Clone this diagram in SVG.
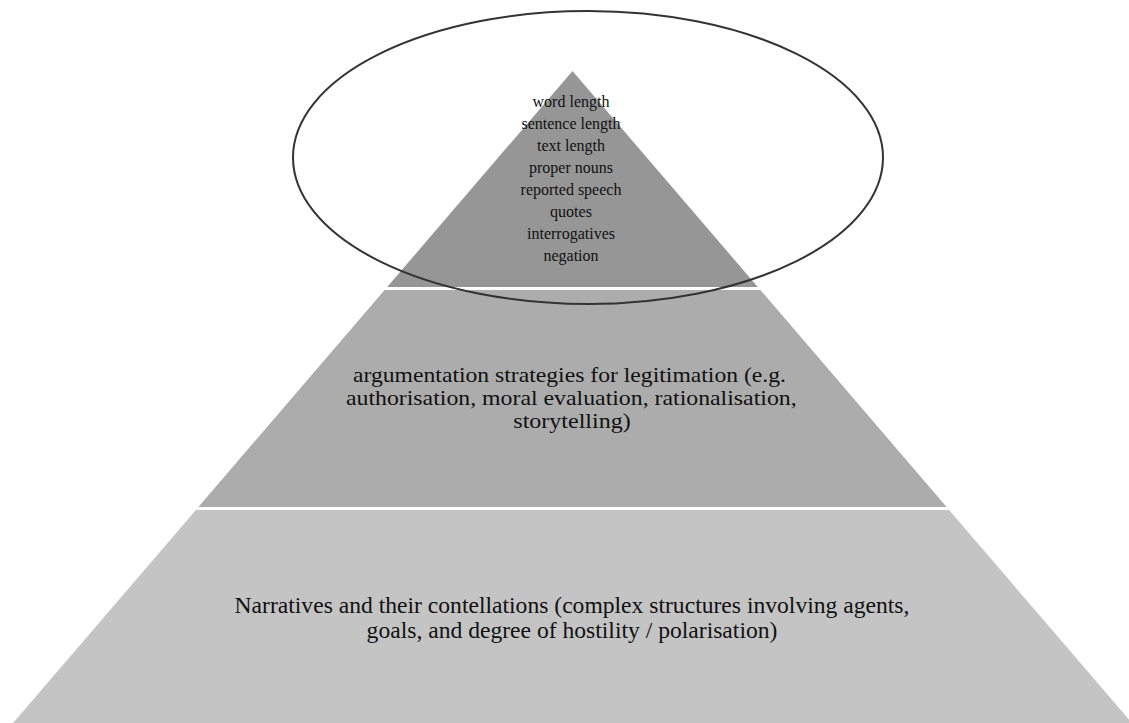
<svg xmlns="http://www.w3.org/2000/svg" width="1129" height="723" viewBox="0 0 1129 723">
  <style>
    .tier-top { fill: #969696; }
    .tier-mid { fill: #acacac; }
    .tier-base { fill: #c4c4c4; }
    .label { font-family: "Liberation Serif", "Times New Roman", serif; fill: #111; text-anchor: middle; }
    .small { font-size: 16px; }
    .large { font-size: 23.6px; }
    .mid { font-size: 22px; }
    .focus { fill: none; stroke: #333; stroke-width: 2; }
  </style>
  <rect width="1129" height="723" fill="#ffffff"/>

  <!-- pyramid, bottom tier -->
  <g id="tier-narratives">
    <polygon class="tier-base" points="195.9,510 949.1,510 1131.9,723 13.1,723"/>
    <text class="label large" x="572" y="613.3">Narratives and their contellations (complex structures involving agents,</text>
    <text class="label large" x="572" y="637.7">goals, and degree of hostility / polarisation)</text>
  </g>

  <!-- pyramid, middle tier -->
  <g id="tier-argumentation">
    <polygon class="tier-mid" points="384.6,290 760.4,290 946.6,507 198.4,507"/>
    <text class="label mid" x="569.5" y="381.7" textLength="433" lengthAdjust="spacingAndGlyphs">argumentation strategies for legitimation (e.g.</text>
    <text class="label mid" x="571.3" y="405" textLength="450.7" lengthAdjust="spacingAndGlyphs">authorisation, moral evaluation, rationalisation,</text>
    <text class="label mid" x="572" y="428.3" textLength="117.4" lengthAdjust="spacingAndGlyphs">storytelling)</text>
  </g>

  <!-- pyramid, top tier -->
  <g id="tier-features">
    <polygon class="tier-top" points="572.5,71 757.8,287 387.2,287"/>
    <text class="label small" x="571" y="107">word length</text>
    <text class="label small" x="571" y="129">sentence length</text>
    <text class="label small" x="571" y="151">text length</text>
    <text class="label small" x="571" y="173">proper nouns</text>
    <text class="label small" x="571" y="195">reported speech</text>
    <text class="label small" x="571" y="217">quotes</text>
    <text class="label small" x="571" y="239">interrogatives</text>
    <text class="label small" x="571" y="261">negation</text>
  </g>

  <!-- outline ring around the top tier -->
  <g id="focus-ring">
    <ellipse class="focus" cx="588" cy="157.5" rx="295" ry="146.5"/>
  </g>
</svg>
